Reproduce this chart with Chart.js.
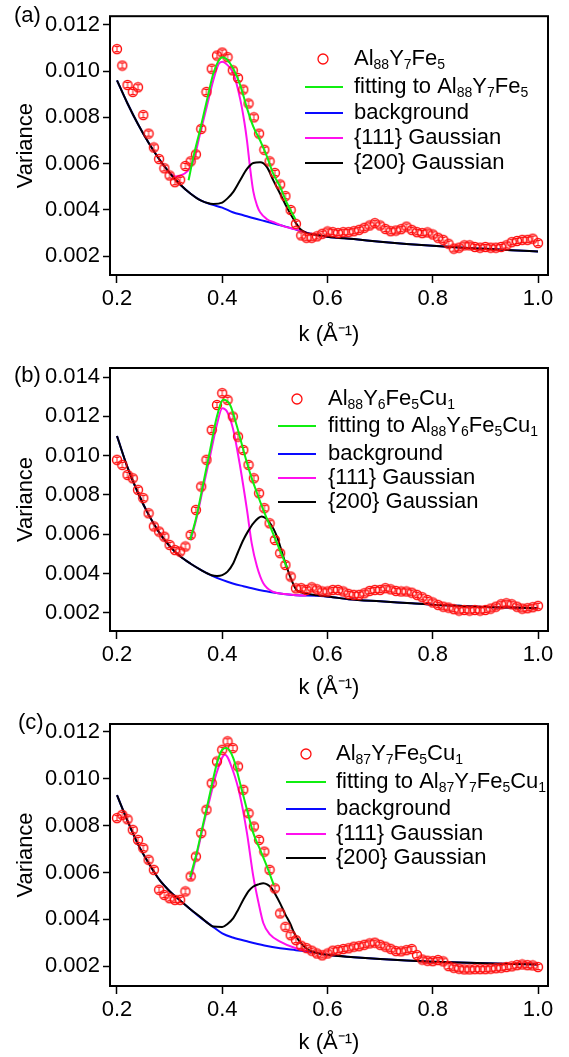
<!DOCTYPE html>
<html>
<head>
<meta charset="utf-8">
<title>Variance vs k</title>
<script src="https://cdn.jsdelivr.net/npm/chart.js@4.4.1/dist/chart.umd.min.js"></script>
<style>
  html, body { margin: 0; padding: 0; background: #fff; }
  #page { position: relative; width: 569px; height: 1057px; overflow: hidden; }
  .panel { position: absolute; left: 0; width: 569px; }
  canvas { display: block; }
</style>
</head>
<body>
<div id="page">
  <div class="panel" style="top:0px;height:350px"><canvas id="chartA" width="569" height="350"></canvas></div>
  <div class="panel" style="top:350px;height:355px"><canvas id="chartB" width="569" height="355"></canvas></div>
  <div class="panel" style="top:705px;height:352px"><canvas id="chartC" width="569" height="352"></canvas></div>
</div>
<script>
// k grid of the measured points (1/Å)
const kGrid = [
  0.20, 0.21, 0.22, 0.23, 0.24, 0.25, 0.26, 0.27, 0.28, 0.29,
  0.30, 0.31, 0.32, 0.33, 0.34, 0.35, 0.36, 0.37, 0.38, 0.39,
  0.40, 0.41, 0.42, 0.43, 0.44, 0.45, 0.46, 0.47, 0.48, 0.49,
  0.50, 0.51, 0.52, 0.53, 0.54, 0.55, 0.56, 0.57, 0.58, 0.59,
  0.60, 0.61, 0.62, 0.63, 0.64, 0.65, 0.66, 0.67, 0.68, 0.69,
  0.70, 0.71, 0.72, 0.73, 0.74, 0.75, 0.76, 0.77, 0.78, 0.79,
  0.80, 0.81, 0.82, 0.83, 0.84, 0.85, 0.86, 0.87, 0.88, 0.89,
  0.90, 0.91, 0.92, 0.93, 0.94, 0.95, 0.96, 0.97, 0.98, 0.99,
  1.00
];

const xTicks = [0.2, 0.4, 0.6, 0.8, 1.0];
const yTicksA = [0.002, 0.004, 0.006, 0.008, 0.010, 0.012];
const yTicksB = [0.002, 0.004, 0.006, 0.008, 0.010, 0.012, 0.014];
const yTicksC = [0.002, 0.004, 0.006, 0.008, 0.010, 0.012];

// ---- (a) Al88Y7Fe5 ----
const varianceA = [
  0.01095, 0.01024, 0.0094, 0.0091, 0.0093, 0.0081, 0.0073, 0.0067, 0.0062, 0.0058,
  0.00549, 0.0052, 0.0053, 0.0059, 0.0061, 0.0064, 0.0075, 0.0091, 0.0101, 0.01067,
  0.0108, 0.0106, 0.01003, 0.0097, 0.0092, 0.0086, 0.0080, 0.0073, 0.0066, 0.0061,
  0.0056, 0.0051, 0.0046, 0.0040, 0.0034, 0.0029, 0.0028, 0.0028, 0.00286, 0.00297,
  0.00307, 0.00304, 0.0030, 0.00304, 0.00304, 0.00308, 0.00314, 0.00323, 0.00333, 0.00343,
  0.00333, 0.00318, 0.00308, 0.00311, 0.00317, 0.00328, 0.00314, 0.00304, 0.0030, 0.00303,
  0.00294, 0.0028, 0.00271, 0.00254, 0.00233, 0.00237, 0.00247, 0.00247, 0.0024, 0.00237,
  0.0024, 0.00237, 0.00237, 0.0024, 0.00247, 0.00261, 0.00266, 0.00271, 0.00271, 0.00276,
  0.00257
];
const fitA = [
  [0.336, 0.00528], [0.345, 0.00627], [0.358, 0.00748], [0.371, 0.00875], [0.383, 0.00989],
  [0.393, 0.01045], [0.400, 0.0106], [0.408, 0.01052], [0.421, 0.0101], [0.434, 0.0094],
  [0.447, 0.0084], [0.459, 0.0076], [0.472, 0.0070], [0.485, 0.0063], [0.497, 0.00556],
  [0.510, 0.0050], [0.523, 0.00429], [0.539, 0.0036]
];
const backgroundA = [
  [0.20, 0.0096], [0.22, 0.0086], [0.24, 0.0077], [0.26, 0.0069], [0.28, 0.0062],
  [0.30, 0.0056], [0.32, 0.0051], [0.34, 0.0047], [0.36, 0.0044], [0.38, 0.00423],
  [0.40, 0.0041], [0.42, 0.0039], [0.44, 0.00377], [0.46, 0.00364], [0.48, 0.00352],
  [0.50, 0.0034], [0.52, 0.00328], [0.54, 0.00315], [0.56, 0.00302], [0.58, 0.00292],
  [0.60, 0.00284], [0.65, 0.00274], [0.70, 0.00263], [0.75, 0.00253], [0.80, 0.00245],
  [0.85, 0.00238], [0.90, 0.00232], [0.95, 0.00226], [1.00, 0.00221]
];
const gauss111A = [
  [0.300, 0.0056], [0.310, 0.00545], [0.320, 0.00548], [0.335, 0.0057], [0.345, 0.0061],
  [0.358, 0.0073], [0.371, 0.0085], [0.383, 0.0096], [0.393, 0.0103], [0.400, 0.0104],
  [0.408, 0.0103], [0.421, 0.0099], [0.434, 0.0088], [0.442, 0.0078], [0.447, 0.0070],
  [0.453, 0.0058], [0.459, 0.0048], [0.466, 0.0042], [0.472, 0.0039], [0.485, 0.0036],
  [0.500, 0.00345], [0.516, 0.0033], [0.540, 0.00316], [0.560, 0.00303]
];
const gauss200A = [
  [0.20, 0.0096], [0.22, 0.0086], [0.24, 0.0077], [0.26, 0.0069], [0.28, 0.0062],
  [0.30, 0.0056], [0.32, 0.0051], [0.34, 0.0047], [0.36, 0.0044], [0.383, 0.00426],
  [0.400, 0.00432], [0.410, 0.0045], [0.421, 0.00478], [0.434, 0.00528], [0.447, 0.00577],
  [0.459, 0.00603], [0.472, 0.00606], [0.485, 0.00585], [0.497, 0.00528], [0.510, 0.0047],
  [0.523, 0.0041], [0.539, 0.00347], [0.548, 0.00318], [0.561, 0.0030], [0.58, 0.00292],
  [0.60, 0.00284], [0.65, 0.00274], [0.70, 0.00263], [0.75, 0.00253], [0.80, 0.00245],
  [0.85, 0.00238], [0.90, 0.00232], [0.95, 0.00226], [1.00, 0.00221]
];
const legendA = ['Al_88Y_7Fe_5', 'fitting to Al_88Y_7Fe_5', 'background', '{111} Gaussian', '{200} Gaussian'];

// ---- (b) Al88Y6Fe5Cu1 ----
const varianceB = [
  0.00979, 0.00953, 0.00902, 0.00885, 0.00826, 0.00784, 0.00707, 0.0064, 0.00614, 0.00588,
  0.00546, 0.0052, 0.00512, 0.00538, 0.00597, 0.00724, 0.00843, 0.00979, 0.01131, 0.01258,
  0.01318, 0.01284, 0.01199, 0.01097, 0.01029, 0.00953, 0.00885, 0.00809, 0.00733, 0.00656,
  0.00571, 0.00504, 0.00444, 0.00385, 0.00325, 0.00326, 0.00317, 0.0033, 0.0032, 0.00309,
  0.00309, 0.00317, 0.00317, 0.00309, 0.00297, 0.00292, 0.00292, 0.0030, 0.00312, 0.00317,
  0.00317, 0.00326, 0.0032, 0.00312, 0.00309, 0.00309, 0.00303, 0.00292, 0.0028, 0.00266,
  0.00253, 0.00241, 0.00232, 0.00227, 0.00219, 0.00212, 0.00215, 0.00212, 0.00215, 0.00212,
  0.00215, 0.00222, 0.00232, 0.00244, 0.00249, 0.00244, 0.00232, 0.00222, 0.00224, 0.00229,
  0.00236
];
const fitB = [
  [0.339, 0.00571], [0.351, 0.0069], [0.364, 0.0086], [0.377, 0.0103], [0.390, 0.0120],
  [0.402, 0.01284], [0.415, 0.01258], [0.428, 0.01148], [0.440, 0.0103], [0.453, 0.0091],
  [0.466, 0.0081], [0.478, 0.00724], [0.491, 0.0064], [0.504, 0.00555], [0.516, 0.00478],
  [0.523, 0.0043]
];
const backgroundB = [
  [0.20, 0.0110], [0.22, 0.0094], [0.24, 0.0081], [0.26, 0.0070], [0.28, 0.0061],
  [0.30, 0.0054], [0.32, 0.00488], [0.34, 0.0045], [0.36, 0.00418], [0.38, 0.0039],
  [0.40, 0.00368], [0.42, 0.0035], [0.44, 0.00336], [0.46, 0.00323], [0.48, 0.00312],
  [0.50, 0.00303], [0.52, 0.00295], [0.54, 0.0029], [0.58, 0.00287], [0.61, 0.0028],
  [0.64, 0.0027], [0.70, 0.00259], [0.76, 0.00249], [0.80, 0.00242], [0.85, 0.00236],
  [0.90, 0.0023], [0.95, 0.00227], [1.00, 0.00224]
];
const gauss111B = [
  [0.340, 0.0057], [0.351, 0.0068], [0.364, 0.0084], [0.377, 0.0100], [0.390, 0.0116],
  [0.400, 0.01241], [0.410, 0.0122], [0.421, 0.01131], [0.434, 0.00945], [0.447, 0.00724],
  [0.456, 0.00554], [0.466, 0.00436], [0.478, 0.00351], [0.497, 0.00307], [0.520, 0.00296],
  [0.540, 0.0029], [0.560, 0.00289]
];
const gauss200B = [
  [0.20, 0.0110], [0.22, 0.0094], [0.24, 0.0081], [0.26, 0.0070], [0.28, 0.0061],
  [0.30, 0.0054], [0.32, 0.00488], [0.34, 0.0045], [0.36, 0.00418], [0.38, 0.00392],
  [0.390, 0.00388], [0.400, 0.00392], [0.410, 0.0041], [0.421, 0.00453], [0.430, 0.0051],
  [0.440, 0.00571], [0.450, 0.0062], [0.459, 0.00656], [0.475, 0.0069], [0.491, 0.00656],
  [0.504, 0.00588], [0.516, 0.00487], [0.529, 0.00385], [0.541, 0.00317], [0.550, 0.00305],
  [0.560, 0.00298], [0.58, 0.0029], [0.61, 0.0028], [0.64, 0.0027], [0.70, 0.00259],
  [0.76, 0.00249], [0.80, 0.00242], [0.85, 0.00236], [0.90, 0.0023], [0.95, 0.00227],
  [1.00, 0.00224]
];
const legendB = ['Al_88Y_6Fe_5Cu_1', 'fitting to Al_88Y_6Fe_5Cu_1', 'background', '{111} Gaussian', '{200} Gaussian'];

// ---- (c) Al87Y7Fe5Cu1 ----
const varianceC = [
  0.00832, 0.00846, 0.00827, 0.00782, 0.00739, 0.00704, 0.00654, 0.00611, 0.00526, 0.00504,
  0.0049, 0.00483, 0.00483, 0.00519, 0.00583, 0.00668, 0.00768, 0.00868, 0.00981, 0.01074,
  0.01124, 0.0116, 0.01131, 0.01053, 0.00953, 0.00853, 0.00796, 0.00739, 0.00689, 0.00611,
  0.00532, 0.00425, 0.00368, 0.00332, 0.00311, 0.00287, 0.00277, 0.00266, 0.00254, 0.00246,
  0.00254, 0.00266, 0.00268, 0.00273, 0.00276, 0.00283, 0.00285, 0.00291, 0.00297, 0.0030,
  0.00291, 0.00283, 0.00274, 0.00264, 0.00263, 0.00268, 0.00273, 0.00247, 0.00228, 0.00223,
  0.00221, 0.00226, 0.0022, 0.0020, 0.00193, 0.00189, 0.00186, 0.00186, 0.00187, 0.00187,
  0.00187, 0.00189, 0.00191, 0.00193, 0.00196, 0.00199, 0.00204, 0.00207, 0.00204, 0.00203,
  0.00196
];
const fitC = [
  [0.339, 0.0058], [0.351, 0.0068], [0.364, 0.0081], [0.377, 0.0094], [0.390, 0.01067],
  [0.400, 0.01124], [0.408, 0.01131], [0.421, 0.01088], [0.434, 0.0098], [0.447, 0.00868],
  [0.459, 0.00768], [0.472, 0.00697], [0.485, 0.00625], [0.498, 0.00546]
];
const backgroundC = [
  [0.20, 0.0093], [0.22, 0.0082], [0.24, 0.0072], [0.26, 0.0064], [0.28, 0.0057],
  [0.30, 0.0052], [0.32, 0.0048], [0.34, 0.00442], [0.36, 0.00405], [0.38, 0.00372],
  [0.40, 0.0034], [0.42, 0.00322], [0.45, 0.00304], [0.48, 0.00288], [0.51, 0.00276],
  [0.54, 0.00268], [0.57, 0.0026], [0.60, 0.00248], [0.65, 0.00238], [0.70, 0.0023],
  [0.75, 0.00224], [0.80, 0.00219], [0.85, 0.00215], [0.90, 0.00212], [0.95, 0.00209],
  [1.00, 0.00207]
];
const gauss111C = [
  [0.340, 0.0057], [0.351, 0.0067], [0.364, 0.0080], [0.377, 0.0092], [0.390, 0.0103],
  [0.405, 0.01103], [0.421, 0.0103], [0.434, 0.00925], [0.447, 0.00768], [0.459, 0.00583],
  [0.469, 0.0047], [0.478, 0.00384], [0.491, 0.00334], [0.510, 0.00305], [0.540, 0.00276],
  [0.560, 0.00266]
];
const gauss200C = [
  [0.20, 0.0093], [0.22, 0.0082], [0.24, 0.0072], [0.26, 0.0064], [0.28, 0.0057],
  [0.30, 0.0052], [0.32, 0.0048], [0.34, 0.00442], [0.36, 0.00407], [0.370, 0.00388],
  [0.383, 0.00369], [0.400, 0.00367], [0.410, 0.0038], [0.421, 0.00405], [0.430, 0.0044],
  [0.440, 0.00483], [0.450, 0.0052], [0.459, 0.0054], [0.470, 0.0055], [0.478, 0.00554],
  [0.486, 0.00548], [0.494, 0.00532], [0.500, 0.0051], [0.510, 0.00468], [0.520, 0.0042],
  [0.529, 0.00382], [0.537, 0.0034], [0.545, 0.00311], [0.560, 0.00275], [0.573, 0.0026],
  [0.60, 0.00248], [0.65, 0.00238], [0.70, 0.0023], [0.75, 0.00224], [0.80, 0.00219],
  [0.85, 0.00215], [0.90, 0.00212], [0.95, 0.00209], [1.00, 0.00207]
];
const legendC = ['Al_87Y_7Fe_5Cu_1', 'fitting to Al_87Y_7Fe_5Cu_1', 'background', '{111} Gaussian', '{200} Gaussian'];

const FAMILY = '"Liberation Sans", Arial, Helvetica, sans-serif';
const FONT = { family: FAMILY, size: 22 };
const RED = '#ff0d0d';
const GREEN = '#10ee10';
const BLUE = '#0a0aff';
const MAGENTA = '#ff10ee';
const BLACK = '#000000';

// open circle with a small capped bar inside, used for every measured point
function makeMarker() {
  const c = document.createElement('canvas');
  c.width = 12; c.height = 12;
  const g = c.getContext('2d');
  g.strokeStyle = RED;
  g.lineWidth = 1.4;
  g.beginPath();
  g.arc(6, 6, 4.5, 0, Math.PI * 2);
  g.stroke();
  g.lineWidth = 1;
  g.beginPath();
  g.moveTo(6, 3); g.lineTo(6, 9);
  g.moveTo(3.5, 3.5); g.lineTo(8.5, 3.5);
  g.moveTo(3.5, 8.5); g.lineTo(8.5, 8.5);
  g.stroke();
  return c;
}
const dataMarker = makeMarker();

// draws "Al_88Y_7" style labels with the numbers as subscripts
function drawRichText(ctx, text, x, y) {
  const parts = text.split(/(_\d+)/);
  for (const part of parts) {
    if (!part) continue;
    if (part[0] === '_') {
      const s = part.slice(1);
      ctx.font = '14px ' + FAMILY;
      ctx.fillText(s, x, y + 6);
      x += ctx.measureText(s).width;
    } else {
      ctx.font = '22px ' + FAMILY;
      ctx.fillText(part, x, y);
      x += ctx.measureText(part).width;
    }
  }
}

// frame box, panel letter and the in-plot legend
const panelDecor = {
  id: 'panelDecor',
  afterDraw(chart, args, opts) {
    const { ctx, chartArea: a } = chart;
    ctx.save();
    ctx.strokeStyle = BLACK;
    ctx.lineWidth = 2;
    ctx.strokeRect(a.left, a.top, a.right - a.left, a.bottom - a.top);

    ctx.fillStyle = BLACK;
    ctx.textAlign = 'left';
    ctx.textBaseline = 'middle';
    ctx.font = '22px ' + FAMILY;
    ctx.fillText(opts.letter, opts.letterX, opts.letterY);

    const lg = opts.legend;
    const colors = [RED, GREEN, BLUE, MAGENTA, BLACK];
    lg.labels.forEach((label, i) => {
      const y = lg.rows[i];
      if (i === 0) {
        ctx.beginPath();
        ctx.arc(lg.markerX, y, 5, 0, Math.PI * 2);
        ctx.strokeStyle = RED;
        ctx.lineWidth = 1.3;
        ctx.stroke();
      } else {
        ctx.beginPath();
        ctx.moveTo(lg.lineX0, y);
        ctx.lineTo(lg.lineX1, y);
        ctx.strokeStyle = colors[i];
        ctx.lineWidth = 2;
        ctx.stroke();
      }
      ctx.fillStyle = BLACK;
      drawRichText(ctx, label, lg.textX, y);
    });
    ctx.restore();
  }
};

function toPoints(pairs) {
  return pairs.map(p => ({ x: p[0], y: p[1] }));
}

function curve(pairs, color) {
  return {
    data: toPoints(pairs),
    showLine: true,
    borderColor: color,
    borderWidth: 2,
    pointRadius: 0,
    cubicInterpolationMode: 'monotone'
  };
}

function makePanel(id, p) {
  const ctx = document.getElementById(id).getContext('2d');
  return new Chart(ctx, {
    type: 'scatter',
    data: {
      datasets: [
        curve(p.fit, GREEN),
        {
          data: kGrid.map((k, i) => ({ x: k, y: p.variance[i] })),
          showLine: false,
          pointStyle: dataMarker,
          pointRadius: 6
        },
        curve(p.g200, BLACK),
        curve(p.g111, MAGENTA),
        curve(p.background, BLUE)
      ]
    },
    options: {
      responsive: false,
      animation: false,
      events: [],
      layout: { padding: { top: p.padTop, right: 21, bottom: 0, left: 0 } },
      plugins: {
        legend: { display: false },
        tooltip: { enabled: false },
        panelDecor: p.decor
      },
      scales: {
        x: {
          type: 'linear',
          min: 0.1867,
          max: 1.019,
          afterBuildTicks: s => { s.ticks = xTicks.map(v => ({ value: v })); },
          afterFit: s => { s.height = p.xAxisHeight; },
          border: { display: false },
          grid: { drawOnChartArea: false, drawTicks: true, tickLength: 8, tickColor: BLACK, tickWidth: 1.5 },
          ticks: { color: BLACK, font: FONT, padding: 3, maxRotation: 0, autoSkip: false,
                   callback: v => v.toFixed(1) },
          title: { display: true, text: 'k (Å⁻¹)', color: BLACK, font: FONT,
                   padding: { top: 0, bottom: p.xTitlePad } }
        },
        y: {
          type: 'linear',
          min: p.yMin,
          max: p.yMax,
          afterBuildTicks: s => { s.ticks = p.yTicks.map(v => ({ value: v })); },
          afterFit: s => { s.width = 110; },
          border: { display: false },
          grid: { drawOnChartArea: false, drawTicks: true, tickLength: 7, tickColor: BLACK, tickWidth: 1.5 },
          ticks: { color: BLACK, font: FONT, padding: 3, autoSkip: false,
                   callback: v => v.toFixed(3) },
          title: { display: true, text: 'Variance', color: BLACK, font: FONT,
                   padding: { top: 13, bottom: 0 } }
        }
      }
    },
    plugins: [panelDecor]
  });
}

makePanel('chartA', {
  variance: varianceA, fit: fitA, background: backgroundA, g111: gauss111A, g200: gauss200A,
  yTicks: yTicksA, yMin: 0.00119, yMax: 0.01237,
  padTop: 14, xAxisHeight: 75, xTitlePad: 2,
  decor: {
    letter: '(a)', letterX: 14, letterY: 16,
    legend: { labels: legendA, markerX: 323, lineX0: 305, lineX1: 343, textX: 354,
              rows: [59, 87, 113, 138, 163] }
  }
});

makePanel('chartB', {
  variance: varianceB, fit: fitB, background: backgroundB, g111: gauss111B, g200: gauss200B,
  yTicks: yTicksB, yMin: 0.00108, yMax: 0.01446,
  padTop: 18, xAxisHeight: 74, xTitlePad: 4,
  decor: {
    letter: '(b)', letterX: 14, letterY: 26,
    legend: { labels: legendB, markerX: 297, lineX0: 278, lineX1: 316, textX: 328,
              rows: [49, 76, 104, 128, 152] }
  }
});

makePanel('chartC', {
  variance: varianceC, fit: fitC, background: backgroundC, g111: gauss111C, g200: gauss200C,
  yTicks: yTicksC, yMin: 0.00115, yMax: 0.01234,
  padTop: 19, xAxisHeight: 71, xTitlePad: 1,
  decor: {
    letter: '(c)', letterX: 18, letterY: 18,
    legend: { labels: legendC, markerX: 306, lineX0: 286, lineX1: 326, textX: 336,
              rows: [49, 77, 104, 129, 153] }
  }
});
</script>
</body>
</html>
